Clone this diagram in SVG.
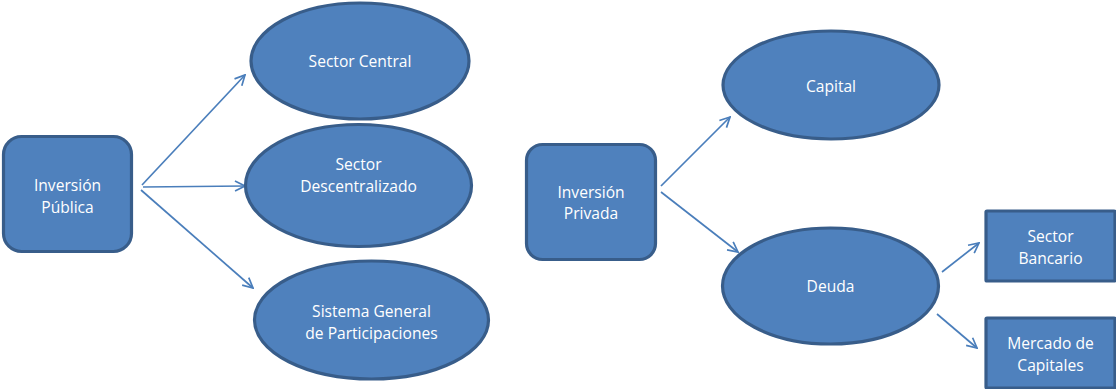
<svg xmlns="http://www.w3.org/2000/svg" width="1116" height="389" viewBox="0 0 1116 389">
<defs>
<marker id="arr" viewBox="0 0 12 12" refX="11" refY="6" markerWidth="12" markerHeight="12" markerUnits="userSpaceOnUse" orient="auto">
<polyline points="1,1 11,6 1,11" fill="none" stroke="#4A7EBB" stroke-width="1.7"/>
</marker>
<style>
.n{fill:#4F81BD;stroke:#385D8A;stroke-width:3.2}
.t{fill:#FFFFFF;font-family:"Open Sans","Noto Sans",sans-serif;font-size:15.6px;text-anchor:middle;dominant-baseline:central}
.c{fill:none;stroke:#4A7EBB;stroke-width:1.7;marker-end:url(#arr)}
</style>
</defs>
<rect width="1116" height="389" fill="#FFFFFF"/>
<g id="connectors">
<line class="c" x1="142" y1="185" x2="245" y2="75"/>
<line class="c" x1="143" y1="187" x2="245" y2="186"/>
<line class="c" x1="141" y1="190" x2="253" y2="288"/>
<line class="c" x1="661" y1="186" x2="730" y2="117"/>
<line class="c" x1="661" y1="192" x2="738" y2="252"/>
<line class="c" x1="942" y1="272" x2="979" y2="243"/>
<line class="c" x1="937" y1="314" x2="977" y2="348"/>
</g>
<g id="inversion-publica">
<rect class="n" x="3.5" y="136.5" width="128" height="115" rx="18"/>
<text class="t" x="67.5" y="185">Inversión</text>
<text class="t" x="67.5" y="207">Pública</text>
</g>
<g id="sector-central">
<ellipse class="n" cx="360" cy="61" rx="109" ry="58"/>
<text class="t" x="360" y="61">Sector Central</text>
</g>
<g id="sector-descentralizado">
<ellipse class="n" cx="358.5" cy="185.5" rx="113" ry="61"/>
<text class="t" x="358.5" y="164">Sector</text>
<text class="t" x="358.5" y="186">Descentralizado</text>
</g>
<g id="sistema-general">
<ellipse class="n" cx="371.5" cy="320" rx="117" ry="59"/>
<text class="t" x="371.5" y="311">Sistema General</text>
<text class="t" x="371.5" y="333">de Participaciones</text>
</g>
<g id="inversion-privada">
<rect class="n" x="526.5" y="144.5" width="129" height="115" rx="16"/>
<text class="t" x="591" y="192">Inversión</text>
<text class="t" x="591" y="213">Privada</text>
</g>
<g id="capital">
<ellipse class="n" cx="831" cy="85" rx="108" ry="54"/>
<text class="t" x="831" y="86">Capital</text>
</g>
<g id="deuda">
<ellipse class="n" cx="830.5" cy="286" rx="108" ry="58"/>
<text class="t" x="830.5" y="286">Deuda</text>
</g>
<g id="sector-bancario">
<rect class="n" x="986" y="211" width="129" height="70" rx="1"/>
<text class="t" x="1050.5" y="236">Sector</text>
<text class="t" x="1050.5" y="258">Bancario</text>
</g>
<g id="mercado-capitales">
<rect class="n" x="986" y="318" width="129" height="70" rx="1"/>
<text class="t" x="1050.5" y="343">Mercado de</text>
<text class="t" x="1050.5" y="365">Capitales</text>
</g>
</svg>
